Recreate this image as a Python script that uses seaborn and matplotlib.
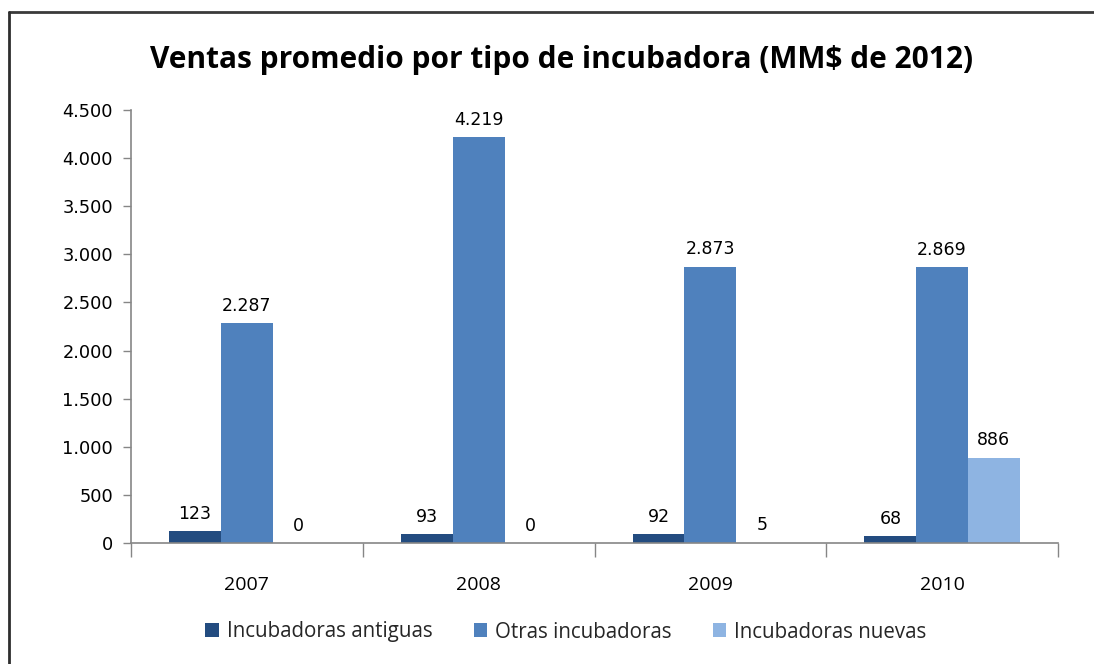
import matplotlib
matplotlib.use("Agg")
import matplotlib.pyplot as plt
import matplotlib.ticker as mticker
from matplotlib.lines import Line2D
import seaborn as sns
import pandas as pd

years = ["2007", "2008", "2009", "2010"]
series = ["Incubadoras antiguas", "Otras incubadoras", "Incubadoras nuevas"]
antiguas = [123, 93, 92, 68]
otras = [2287, 4219, 2873, 2869]
nuevas = [0, 0, 5, 886]
colors = ["#234C80", "#4F81BD", "#8EB4E2"]

rows = []
for name, vals in zip(series, [antiguas, otras, nuevas]):
    for y, v in zip(years, vals):
        rows.append({"Año": y, "Serie": name, "Valor": v})
df = pd.DataFrame(rows)

sns.set_theme(style="white")
plt.rcParams["font.family"] = ["Open Sans", "DejaVu Sans"]

fig = plt.figure(figsize=(10.94, 6.64), dpi=100)
ax = fig.add_axes([131 / 1094, 1 - 543 / 664, (1058 - 131) / 1094, (543 - 110) / 664])

sns.barplot(data=df, x="Año", y="Valor", hue="Serie", order=years, hue_order=series,
            palette=colors, width=0.67, gap=0, ax=ax, saturation=1, legend=True,
            edgecolor="none")

fmt = lambda v: f"{v:,.0f}".replace(",", ".")
for cont in ax.containers:
    ax.bar_label(cont, labels=[fmt(b.get_height()) for b in cont], padding=6,
                 fontsize=12.5, color="#000000", family="DejaVu Sans")

ax.set_ylim(0, 4500)
ax.set_xlim(-0.5, 3.5)
ax.yaxis.set_major_locator(mticker.MultipleLocator(500))
ax.yaxis.set_major_formatter(mticker.FuncFormatter(lambda v, p: fmt(v)))
ax.set_xticks([-0.5, 0.5, 1.5, 2.5, 3.5])
ax.set_xticklabels([])
ax.set_xticks([0, 1, 2, 3], minor=True)
ax.set_xticklabels(years, minor=True, family="Open Sans")
ax.tick_params(axis="x", which="major", length=10, width=1, color="#868686", direction="out", bottom=True)
ax.tick_params(axis="x", which="minor", length=0, labelsize=14, pad=24, labelcolor="#000000")
ax.tick_params(axis="y", length=6, width=1, color="#868686", direction="out", left=True,
               labelsize=12.8, pad=7, labelcolor="#000000")
for lbl in ax.get_yticklabels():
    lbl.set_family("DejaVu Sans")
ax.set_xlabel("")
ax.set_ylabel("")
for s in ["top", "right"]:
    ax.spines[s].set_visible(False)
for s in ["left", "bottom"]:
    ax.spines[s].set_color("#868686")
    ax.spines[s].set_linewidth(1.2)

handles, labels = ax.get_legend_handles_labels()
ax.legend_.remove()
fig.legend(handles, labels, loc="center", bbox_to_anchor=(566 / 1094, 1 - 632 / 664), ncol=3,
           frameon=False, fontsize=14.8, handlelength=0.65, handleheight=0.65,
           columnspacing=2.0, handletextpad=0.4)

fig.text(562 / 1094, 1 - 60 / 664, "Ventas promedio por tipo de incubadora (MM$ de 2012)",
         ha="center", va="center", fontsize=21.5, fontweight="bold", color="#000000")

fig.add_artist(Line2D([8.5 / 1094, 1.0], [1 - 11.5 / 664, 1 - 11.5 / 664],
                      transform=fig.transFigure, color="#3a3a3a", lw=2))
fig.add_artist(Line2D([8.5 / 1094, 8.5 / 1094], [1 - 11.5 / 664, 0.0],
                      transform=fig.transFigure, color="#2e2e2e", lw=2))

fig.savefig("out.png", dpi=100)
